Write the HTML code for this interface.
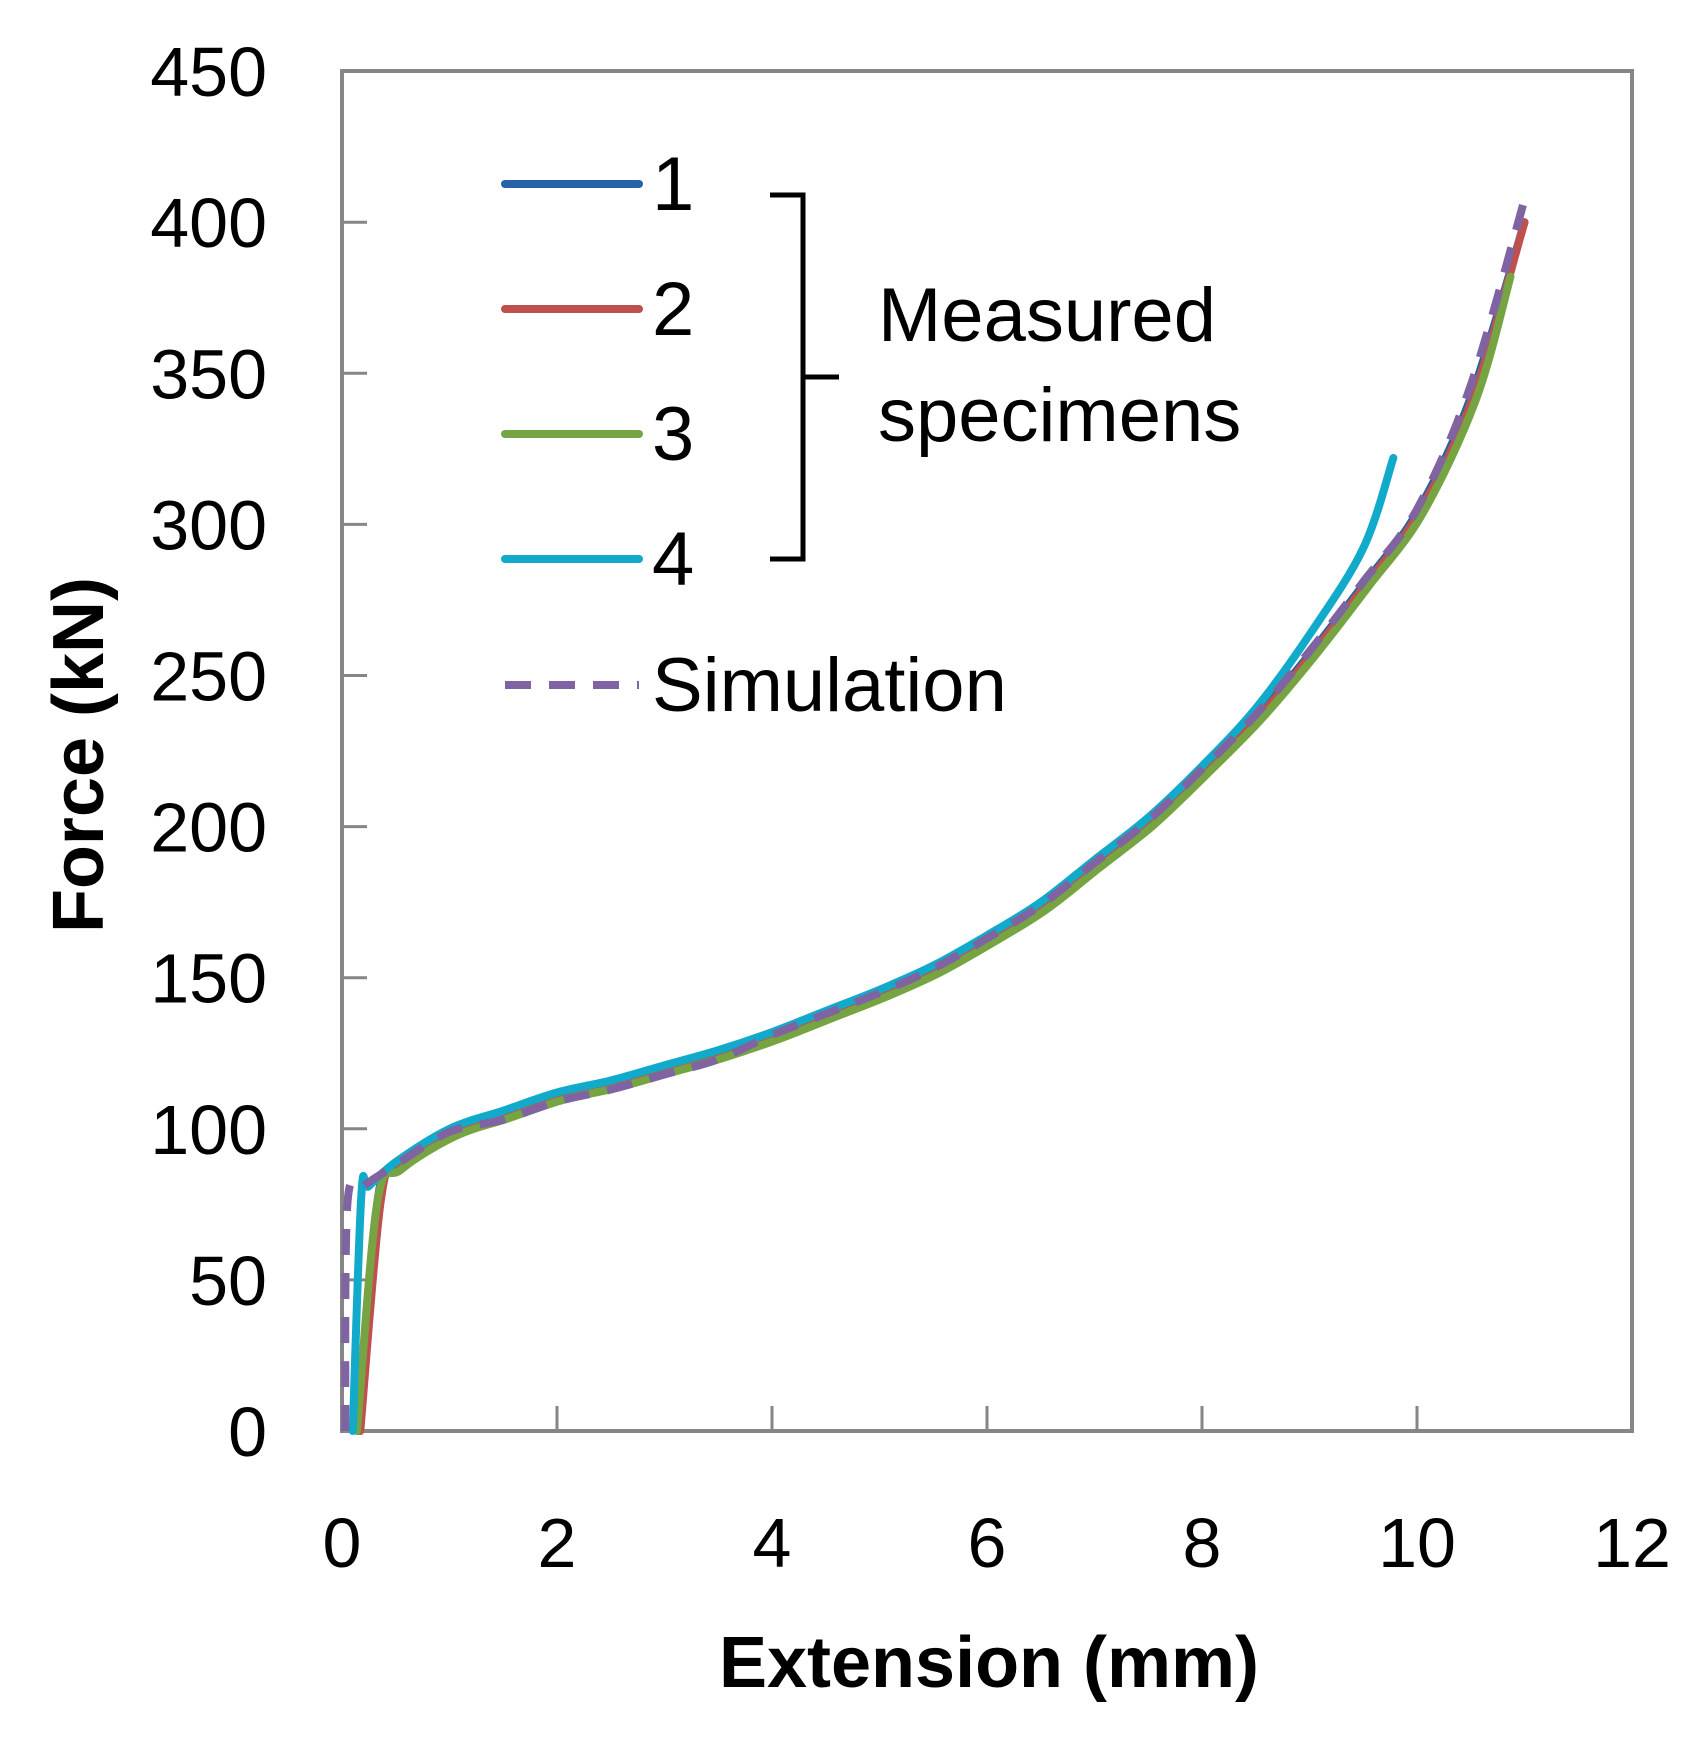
<!DOCTYPE html>
<html><head><meta charset="utf-8"><style>
html,body{margin:0;padding:0;background:#fff;}
svg{display:block;}
text{font-family:"Liberation Sans",sans-serif;fill:#000;}
</style></head><body>
<svg id="s" width="1700" height="1741" viewBox="0 0 1700 1741" xmlns="http://www.w3.org/2000/svg">
<rect x="342" y="71" width="1290" height="1360" fill="#fff" stroke="#868686" stroke-width="4"/>
<g id="ticks" stroke="#868686" stroke-width="3"></g>
<g id="ylab" font-size="70" text-anchor="end"></g>
<g id="xlab" font-size="70" text-anchor="middle"></g>
<g id="curves" fill="none" stroke-linejoin="round" stroke-linecap="round"></g>
<text x="989" y="1687" font-size="72" font-weight="bold" text-anchor="middle">Extension (mm)</text>
<text transform="translate(103,755) rotate(-90)" font-size="72" font-weight="bold" text-anchor="middle">Force (kN)</text>
<g stroke-width="8" stroke-linecap="round">
<line x1="505" y1="184" x2="639" y2="184" stroke="#2563a6"/>
<line x1="505" y1="309" x2="639" y2="309" stroke="#c0504d"/>
<line x1="505" y1="434" x2="639" y2="434" stroke="#77a443"/>
<line x1="505" y1="559" x2="639" y2="559" stroke="#12aacb"/>
<line x1="505" y1="685" x2="639" y2="685" stroke="#8064a2" stroke-dasharray="26,18" stroke-linecap="butt"/>
</g>
<g font-size="76">
<text x="652" y="210">1</text>
<text x="652" y="335">2</text>
<text x="652" y="460">3</text>
<text x="652" y="585">4</text>
<text x="652" y="711">Simulation</text>
<text x="878" y="341">Measured</text>
<text x="878" y="441">specimens</text>
</g>
<path d="M770,195 L803,195 L803,559 L770,559 M803,377 L839,377" fill="none" stroke="#000" stroke-width="5"/>
</svg>
<script>
var X=function(x){return 342+x*107.5},Y=function(f){return 1431-f*3.022};
var ns="http://www.w3.org/2000/svg";
function el(p,t,a,txt){var e=document.createElementNS(ns,t);for(var k in a)e.setAttribute(k,a[k]);if(txt!=null)e.textContent=txt;document.getElementById(p).appendChild(e);}
for(var i=0;i<=450;i+=50){var y=Y(i);if(i>0&&i<450)el("ticks","line",{x1:342,x2:367,y1:y,y2:y});el("ylab","text",{x:267,y:y+25},i);}
for(var i=0;i<=12;i+=2){var x=X(i);if(i>0&&i<12)el("ticks","line",{x1:x,x2:x,y1:1431,y2:1406});el("xlab","text",{x:x,y:1567},i);}
var base=[[0.5,88],[1,99],[1.5,105],[2,111],[2.5,115],[3,120],[3.5,125],[4,131],[4.5,138],[5,145],[5.5,153],[6,163],[6.5,174],[7,188],[7.5,202],[8,219],[8.5,237],[9,258],[9.5,281],[10,305],[10.5,343],[11,400]];
function smooth(p){var d="M"+X(p[0][0])+","+Y(p[0][1]);for(var i=0;i<p.length-1;i++){var p0=p[Math.max(i-1,0)],p1=p[i],p2=p[i+1],p3=p[Math.min(i+2,p.length-1)];
var a=[X(p0[0]),Y(p0[1])],b=[X(p1[0]),Y(p1[1])],c=[X(p2[0]),Y(p2[1])],e=[X(p3[0]),Y(p3[1])];
if(i==0){a=b;}if(i+2>=p.length){e=c;}
d+=" C"+(b[0]+(c[0]-a[0])/6)+","+(b[1]+(c[1]-a[1])/6)+" "+(c[0]-(e[0]-b[0])/6)+","+(c[1]-(e[1]-b[1])/6)+" "+c[0]+","+c[1];}return d;}
function curve(pre,mod,end,col,dash){var p=pre.slice();base.forEach(function(q){var r=mod(q);if(r[0]<=end[0]-0.15)p.push(r)});p.push(end);
var a={d:smooth(p),stroke:col,"stroke-width":8};if(dash){a["stroke-dasharray"]=dash;a["stroke-linecap"]="butt";}el("curves","path",a);}
curve([[0.15,0],[0.33,76]],function(q){return [q[0],q[1]-1]},[11.0,400],"#2563a6");
curve([[0.17,0],[0.36,76]],function(q){return [q[0]+0.02,q[1]-1]},[11.0,400],"#c0504d");
curve([[0.14,0],[0.33,76]],function(q){return [q[0]+0.05,q[1]-1.5]},[10.87,382],"#77a443");
curve([[0.1,0],[0.18,78],[0.25,81]],function(q){var f=q[1];if(q[0]>8)f+=(q[0]-8)*(q[0]-8)*4.5;return [q[0],f+1]},[9.78,322],"#12aacb");
curve([[0.03,0],[0.05,75],[0.2,81]],function(q){var f=q[1];if(q[0]>1&&q[0]<4)f-=2;if(q[0]>10)f+=(q[0]-10)*6;return [q[0],f]},[11.02,410],"#8064a2","26,18");
</script>
</body></html>
